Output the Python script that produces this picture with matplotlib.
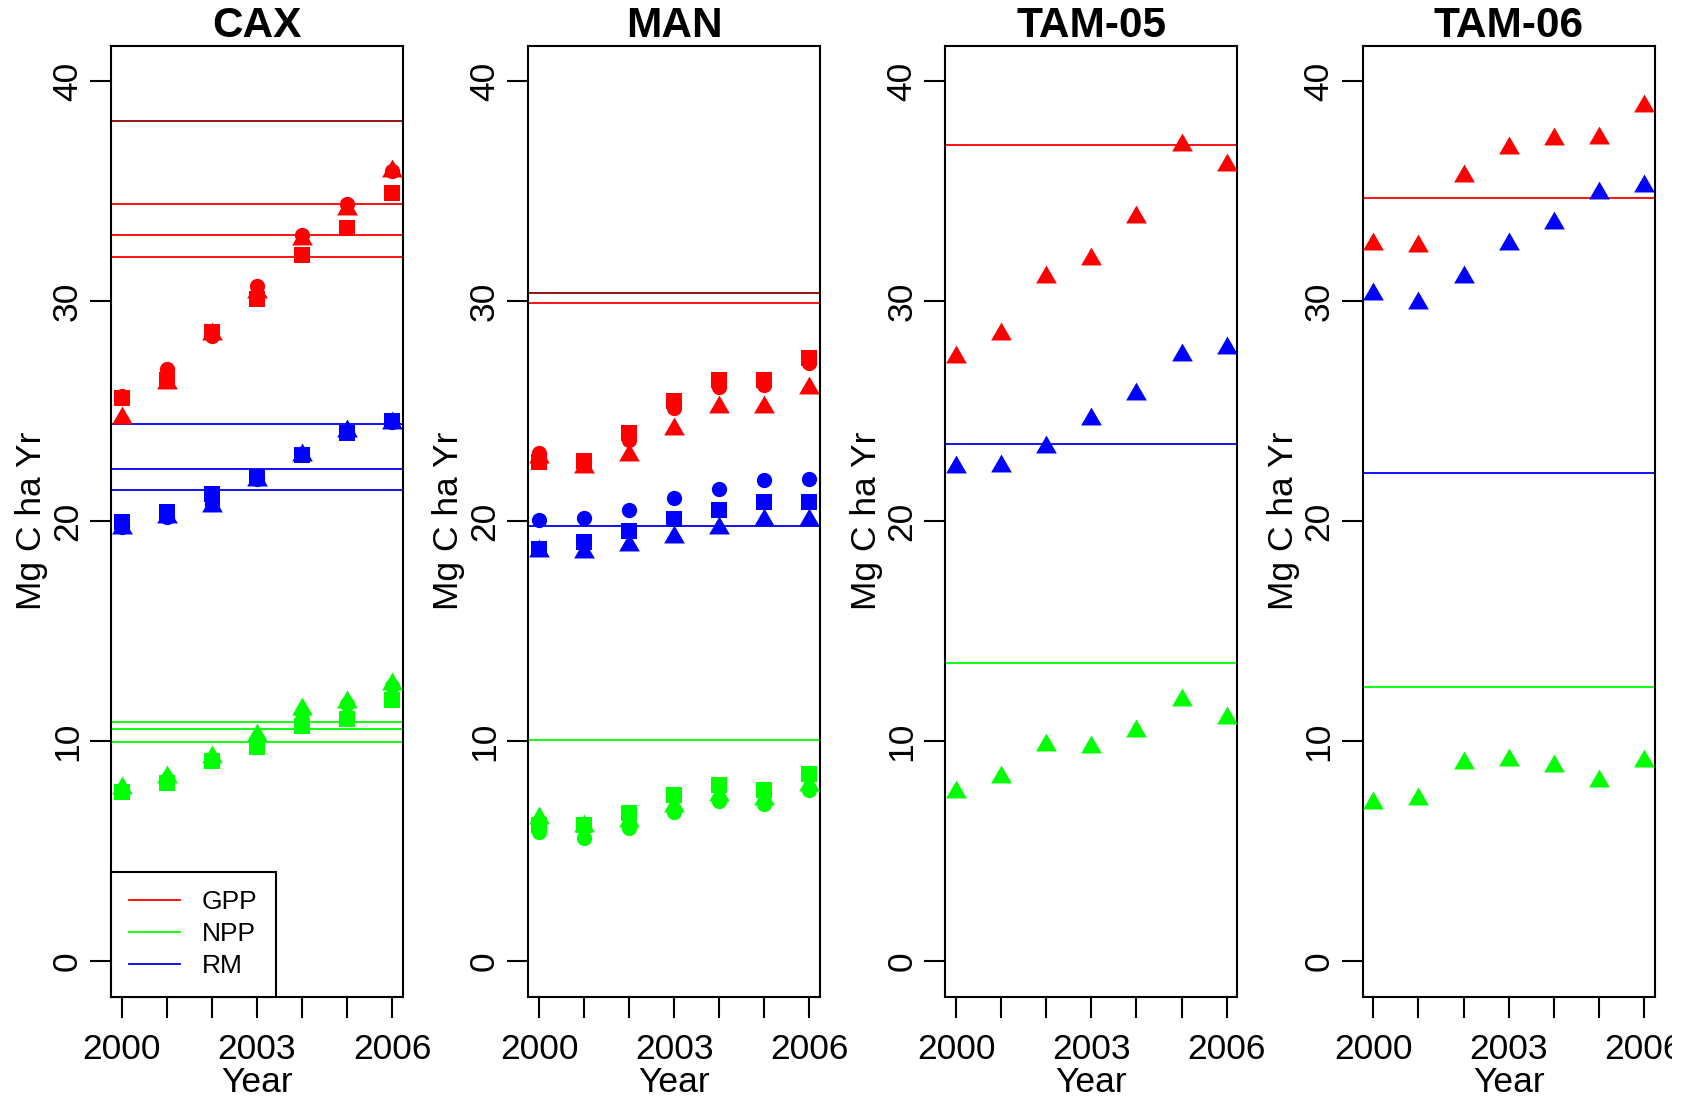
import matplotlib
matplotlib.use("Agg")
import matplotlib.pyplot as plt
from matplotlib.path import Path
from matplotlib.lines import Line2D
from matplotlib.patches import Rectangle

plt.rcParams['font.family'] = ['Liberation Sans', 'DejaVu Sans']

# ---------------- data ----------------
years = [2000, 2001, 2002, 2003, 2004, 2005, 2006]
xtick_labels = ["2000", "", "", "2003", "", "", "2006"]
yticks = [0, 10, 20, 30, 40]
sites = ["CAX", "MAN", "TAM-05", "TAM-06"]
legend_labels = ["GPP", "NPP", "RM"]

# CAX
cax_gpp_circle = [25.7, 26.9, 28.4, 30.7, 33.0, 34.4, 35.9]
cax_gpp_square = [25.6, 26.4, 28.6, 30.1, 32.1, 33.3, 34.9]
cax_gpp_tri = [24.7, 26.3, 28.5, 30.4, 32.8, 34.2, 35.9]
cax_rm_circle = [19.75, 20.2, 20.77, 21.9, 23.0, 24.05, 24.5]
cax_rm_square = [19.95, 20.43, 21.24, 22.03, 23.0, 24.02, 24.55]
cax_rm_tri = [19.7, 20.18, 20.71, 21.85, 23.0, 24.09, 24.47]
cax_npp_circle = [7.8, 8.3, 9.2, 10.1, 11.3, 11.7, 12.5]
cax_npp_square = [7.7, 8.1, 9.1, 9.75, 10.7, 11.0, 11.9]
cax_npp_tri = [7.9, 8.4, 9.3, 10.3, 11.45, 11.8, 12.6]
cax_gpp_lines_dark = [38.19]
cax_gpp_lines = [34.39, 32.99, 32.0]
cax_rm_lines = [24.40, 22.38, 21.40]
cax_npp_lines = [10.88, 10.56, 9.98]

# MAN
man_gpp_circle = [23.1, 22.7, 23.7, 25.15, 26.1, 26.2, 27.2]
man_gpp_square = [22.7, 22.75, 24.0, 25.45, 26.4, 26.4, 27.4]
man_gpp_tri = [22.9, 22.46, 23.0, 24.2, 25.2, 25.2, 26.05]
man_rm_circle = [20.05, 20.15, 20.5, 21.05, 21.45, 21.85, 21.9]
man_rm_square = [18.75, 19.05, 19.55, 20.1, 20.5, 20.85, 20.85]
man_rm_tri = [18.65, 18.6, 18.9, 19.27, 19.67, 20.05, 20.05]
man_npp_circle = [5.9, 5.6, 6.05, 6.8, 7.3, 7.15, 7.8]
man_npp_square = [6.2, 6.2, 6.75, 7.55, 8.0, 7.8, 8.5]
man_npp_tri = [6.5, 6.15, 6.4, 7.05, 7.55, 7.4, 8.0]
man_gpp_lines_dark = [30.38]
man_gpp_lines = [29.9]
man_rm_lines = [19.77]
man_npp_lines = [10.06]

# TAM-05
tam05_gpp_tri = [27.46, 28.49, 31.10, 31.93, 33.80, 37.08, 36.17]
tam05_rm_tri = [22.46, 22.53, 23.37, 24.62, 25.78, 27.57, 27.88]
tam05_npp_tri = [7.71, 8.39, 9.83, 9.75, 10.47, 11.89, 11.04]
tam05_gpp_lines = [37.1]
tam05_rm_lines = [23.49]
tam05_npp_lines = [13.57]

# TAM-06
tam06_gpp_tri = [32.58, 32.49, 35.67, 36.96, 37.34, 37.39, 38.84]
tam06_rm_tri = [30.32, 29.9, 31.10, 32.57, 33.54, 34.89, 35.21]
tam06_npp_tri = [7.21, 7.36, 9.0, 9.15, 8.89, 8.21, 9.09]
tam06_gpp_lines = [34.69]
tam06_rm_lines = [22.18]
tam06_npp_lines = [12.48]

# ---------------- styling ----------------
COL = {"GPP": "#FF0000", "NPP": "#00FF00", "RM": "#0000FF"}
DARK = "#8B0000"
tri_marker = Path([(0, 1), (0.866, -0.5), (-0.866, -0.5), (0, 1)], closed=True)
MARK = {"circle": ("o", 11.0), "square": ("s", 11.3), "tri": (tri_marker, 17.2)}

points = {
    "CAX": {"GPP": {"circle": cax_gpp_circle, "square": cax_gpp_square, "tri": cax_gpp_tri},
            "RM": {"circle": cax_rm_circle, "square": cax_rm_square, "tri": cax_rm_tri},
            "NPP": {"circle": cax_npp_circle, "square": cax_npp_square, "tri": cax_npp_tri}},
    "MAN": {"GPP": {"circle": man_gpp_circle, "square": man_gpp_square, "tri": man_gpp_tri},
            "RM": {"circle": man_rm_circle, "square": man_rm_square, "tri": man_rm_tri},
            "NPP": {"circle": man_npp_circle, "square": man_npp_square, "tri": man_npp_tri}},
    "TAM-05": {"GPP": {"tri": tam05_gpp_tri}, "RM": {"tri": tam05_rm_tri},
               "NPP": {"tri": tam05_npp_tri}},
    "TAM-06": {"GPP": {"tri": tam06_gpp_tri}, "RM": {"tri": tam06_rm_tri},
               "NPP": {"tri": tam06_npp_tri}},
}
hlines = {
    "CAX": {"GPP": cax_gpp_lines, "RM": cax_rm_lines, "NPP": cax_npp_lines, "DARK": cax_gpp_lines_dark},
    "MAN": {"GPP": man_gpp_lines, "RM": man_rm_lines, "NPP": man_npp_lines, "DARK": man_gpp_lines_dark},
    "TAM-05": {"GPP": tam05_gpp_lines, "RM": tam05_rm_lines, "NPP": tam05_npp_lines, "DARK": []},
    "TAM-06": {"GPP": tam06_gpp_lines, "RM": tam06_rm_lines, "NPP": tam06_npp_lines, "DARK": []},
}

W, H = 1694, 1100
fig = plt.figure(figsize=(W / 100, H / 100), dpi=100)

FS = 25.5
for i, site in enumerate(sites):
    ax = fig.add_axes([111 / W + i * 417.2 / W, 103.3 / H, 292 / W, 951 / H])
    for key in ["GPP", "RM", "NPP"]:
        for v in hlines[site][key]:
            ax.axhline(v, color=COL[key], lw=1.3, zorder=2)
    for v in hlines[site]["DARK"]:
        ax.axhline(v, color=DARK, lw=1.3, zorder=2)
    for key in ["GPP", "RM", "NPP"]:
        for shape, vals in points[site][key].items():
            m, ms = MARK[shape]
            ax.plot(years, vals, linestyle="none", marker=m, markersize=ms,
                    markerfacecolor=COL[key], markeredgewidth=0, zorder=3)
    ax.set_xlim(1999.76, 2006.24)
    ax.set_ylim(-1.6, 41.6)
    ax.set_xticks(years)
    ax.set_xticklabels(xtick_labels)
    ax.set_yticks(yticks)
    ax.set_yticklabels([str(t) for t in yticks], rotation=90, va="center")
    ax.tick_params(axis="both", direction="out", length=15, width=1.5, labelsize=FS)
    ax.tick_params(axis="x", pad=11)
    ax.tick_params(axis="y", pad=4.5)
    for sp in ax.spines.values():
        sp.set_linewidth(1.5)
    ax.set_title(site, fontsize=30.5, fontweight="bold", pad=5)
    ax.set_xlabel("Year", fontsize=FS, labelpad=0)
    ax.set_ylabel("Mg C ha Yr", fontsize=FS, labelpad=2)
    if i == 0:
        handles = [Line2D([], [], color=COL[k], lw=1.3) for k in legend_labels]
        leg = ax.legend(handles, legend_labels, loc="lower left", borderaxespad=0,
                        fancybox=False, edgecolor="black", framealpha=1, fontsize=19,
                        handlelength=1.9, handletextpad=0.85, borderpad=0.7,
                        labelspacing=0.3)
        leg.get_frame().set_linewidth(1.5)
        leg.set_zorder(5)

# clipped right edge of the device, as in the original
fig.patches.append(Rectangle((1672 / W, 0), 1 - 1672 / W, 103.3 / H - 0.001,
                             transform=fig.transFigure, facecolor="white",
                             edgecolor="none", zorder=10))

fig.savefig("out.png", dpi=100)
